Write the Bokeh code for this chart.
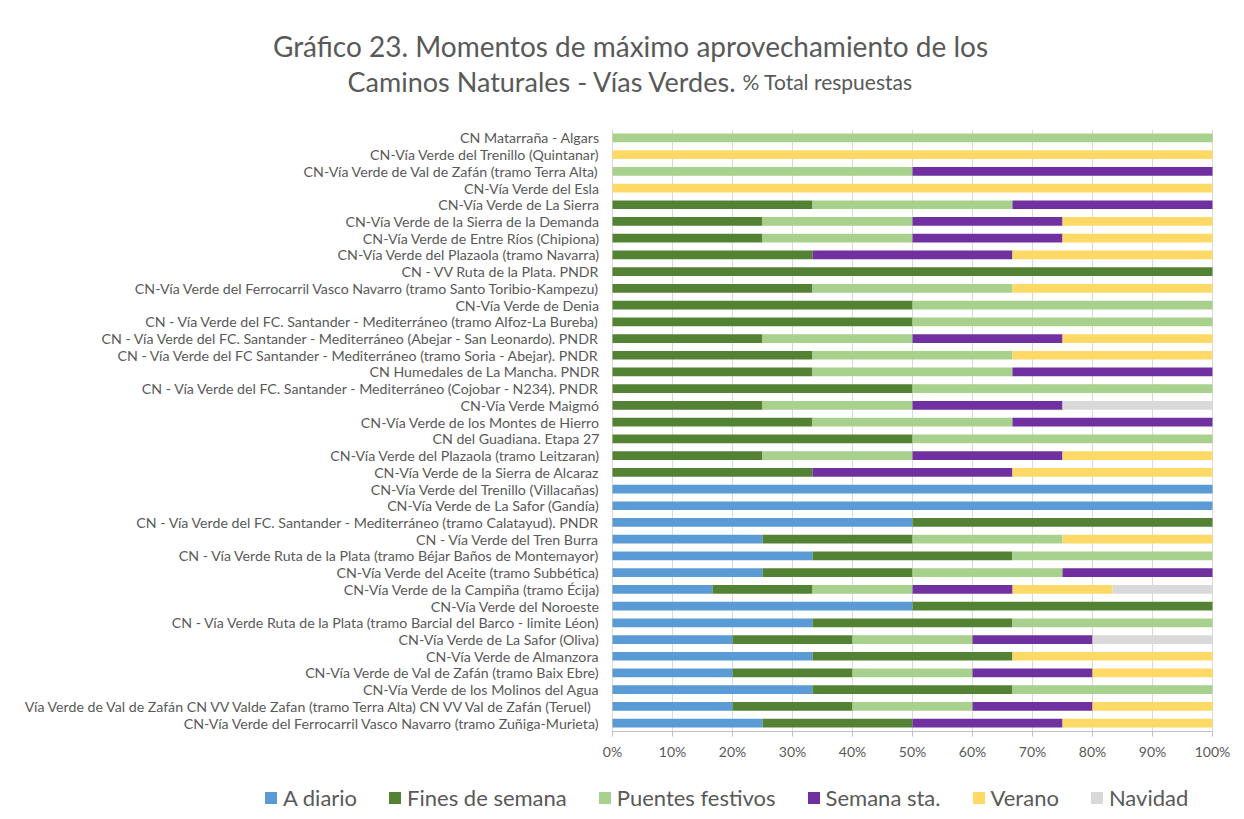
from bokeh.plotting import figure
from bokeh.layouts import column
from bokeh.models import (ColumnDataSource, FactorRange, Range1d, Label, Legend, LegendItem,
                          PrintfTickFormatter, FixedTicker)
from bokeh.core.properties import value
from bokeh.embed import file_html
from bokeh.resources import INLINE

categories = [
    "CN Matarraña - Algars",
    "CN-Vía Verde del Trenillo (Quintanar)",
    "CN-Vía Verde de Val de Zafán (tramo Terra Alta)",
    "CN-Vía Verde del Esla",
    "CN-Vía Verde de La Sierra",
    "CN-Vía Verde de la Sierra de la Demanda",
    "CN-Vía Verde de Entre Ríos (Chipiona)",
    "CN-Vía Verde del Plazaola (tramo Navarra)",
    "CN - VV Ruta de la Plata. PNDR",
    "CN-Vía Verde del Ferrocarril Vasco Navarro (tramo Santo Toribio-Kampezu)",
    "CN-Vía Verde de Denia",
    "CN - Vía Verde del FC. Santander - Mediterráneo (tramo Alfoz-La Bureba)",
    "CN - Vía Verde del FC. Santander - Mediterráneo (Abejar - San Leonardo). PNDR",
    "CN - Vía Verde del FC Santander - Mediterráneo (tramo Soria - Abejar). PNDR",
    "CN Humedales de La Mancha. PNDR",
    "CN - Vía Verde del FC. Santander - Mediterráneo (Cojobar - N234). PNDR",
    "CN-Vía Verde Maigmó",
    "CN-Vía Verde de los Montes de Hierro",
    "CN del Guadiana. Etapa 27",
    "CN-Vía Verde del Plazaola (tramo Leitzaran)",
    "CN-Vía Verde de la Sierra de Alcaraz",
    "CN-Vía Verde del Trenillo (Villacañas)",
    "CN-Vía Verde de La Safor (Gandía)",
    "CN - Vía Verde del FC. Santander - Mediterráneo (tramo Calatayud). PNDR",
    "CN - Vía Verde del Tren Burra",
    "CN - Vía Verde Ruta de la Plata (tramo Béjar Baños de Montemayor)",
    "CN-Vía Verde del Aceite (tramo Subbética)",
    "CN-Vía Verde de la Campiña (tramo Écija)",
    "CN-Vía Verde del Noroeste",
    "CN - Vía Verde Ruta de la Plata (tramo Barcial del Barco - limite Léon)",
    "CN-Vía Verde de La Safor (Oliva)",
    "CN-Vía Verde de Almanzora",
    "CN-Vía Verde de Val de Zafán (tramo Baix Ebre)",
    "CN-Vía Verde de los Molinos del Agua",
    "Vía Verde de Val de Zafán  CN VV Valde Zafan (tramo Terra Alta) CN VV Val de Zafán (Teruel)",
    "CN-Vía Verde del Ferrocarril Vasco Navarro (tramo Zuñiga-Murieta)",
]

a_diario = [0, 0, 0, 0, 0, 0, 0, 0, 0, 0, 0, 0, 0, 0, 0, 0, 0, 0, 0, 0, 0,
            100, 100, 50, 25, 33.33, 25, 16.67, 50, 33.33, 20, 33.33, 20, 33.33, 20, 25]
fines_semana = [0, 0, 0, 0, 33.33, 25, 25, 33.33, 100, 33.33, 50, 50, 25, 33.33, 33.33, 50, 25, 33.33, 50, 25, 33.33,
                0, 0, 50, 25, 33.33, 25, 16.67, 50, 33.33, 20, 33.33, 20, 33.33, 20, 25]
puentes_festivos = [100, 0, 50, 0, 33.33, 25, 25, 0, 0, 33.33, 50, 50, 25, 33.33, 33.33, 50, 25, 33.33, 50, 25, 0,
                    0, 0, 0, 25, 33.33, 25, 16.67, 0, 33.33, 20, 0, 20, 33.33, 20, 0]
semana_santa = [0, 0, 50, 0, 33.33, 25, 25, 33.33, 0, 0, 0, 0, 25, 0, 33.33, 0, 25, 33.33, 0, 25, 33.33,
                0, 0, 0, 0, 0, 25, 16.67, 0, 0, 20, 0, 20, 0, 20, 25]
verano = [0, 100, 0, 100, 0, 25, 25, 33.33, 0, 33.33, 0, 0, 25, 33.33, 0, 0, 0, 0, 0, 25, 33.33,
          0, 0, 0, 25, 0, 0, 16.67, 0, 0, 0, 33.33, 20, 0, 20, 25]
navidad = [0, 0, 0, 0, 0, 0, 0, 0, 0, 0, 0, 0, 0, 0, 0, 0, 25, 0, 0, 0, 0,
           0, 0, 0, 0, 0, 0, 16.67, 0, 0, 20, 0, 0, 0, 0, 0]

series_names = ["A diario", "Fines de semana", "Puentes festivos", "Semana sta.", "Verano", "Navidad"]
colors = ["#5B9BD5", "#548235", "#A9D18E", "#7030A0", "#FFD966", "#D9D9D9"]
x_ticks = [0, 10, 20, 30, 40, 50, 60, 70, 80, 90, 100]

title_line1 = "Gráfico 23. Momentos de máximo aprovechamiento de los"
title_line2 = "Caminos Naturales - Vías Verdes."
title_suffix = "% Total respuestas"

keys = ["a", "f", "p", "s", "v", "n"]
source = ColumnDataSource(dict(cat=categories, a=a_diario, f=fines_semana, p=puentes_festivos,
                               s=semana_santa, v=verano, n=navidad))

FONT = "Lato"
GRAY = "#595959"
W = 1244
PX_PER_PCT = 6.0          # 100 % spans 600 px
X0_PX = 612               # pixel position of 0 %


def bare(fig):
    fig.xaxis.visible = False
    fig.yaxis.visible = False
    fig.xgrid.visible = False
    fig.ygrid.visible = False
    fig.outline_line_color = None
    fig.background_fill_color = "white"
    fig.border_fill_color = "white"


# ---- title figure (page y 0..108) ----
tf = figure(width=W, height=108, output_backend="svg", toolbar_location=None, title=None,
            x_range=Range1d(0, W), y_range=Range1d(108, 0),
            min_border_left=0, min_border_right=0, min_border_top=0, min_border_bottom=0)
bare(tf)
tf.add_layout(Label(x=630, y=45, text=title_line1, text_align="center", text_baseline="alphabetic",
                    text_font=FONT, text_font_size="28px", text_color=GRAY))
tf.add_layout(Label(x=737, y=81, text=title_line2, text_align="right", text_baseline="alphabetic",
                    text_font=FONT, text_font_size="27px", text_color=GRAY))
tf.add_layout(Label(x=742, y=81, text=title_suffix, text_align="left", text_baseline="alphabetic",
                    text_font=FONT, text_font_size="21px", text_color=GRAY))

# ---- main chart (page y 108..775); frame spans the full width ----
p = figure(width=W, height=667, output_backend="svg", toolbar_location=None, title=None,
           y_range=FactorRange(*list(reversed(categories)), range_padding=0),
           x_range=Range1d(-X0_PX / PX_PER_PCT, (W - X0_PX) / PX_PER_PCT),
           min_border_left=0, min_border_right=0, min_border_top=21, min_border_bottom=44)

renderers = p.hbar_stack(keys, y="cat", height=0.52, color=colors, source=source, line_color=None)

# category labels, right-aligned just left of 0 %
p.text(x=0, y="cat", text="cat", source=source, x_offset=-13,
       text_align="right", text_baseline="middle",
       text_font=value(FONT), text_font_size="14.2px", text_color=GRAY)

p.outline_line_color = None
p.background_fill_color = "white"
p.border_fill_color = "white"
p.xgrid.ticker = FixedTicker(ticks=x_ticks)
p.xgrid.grid_line_color = "#D9D9D9"
p.ygrid.grid_line_color = None
p.yaxis.visible = False

xa = p.xaxis[0]
xa.ticker = FixedTicker(ticks=x_ticks)
xa.bounds = (0, 100)
xa.formatter = PrintfTickFormatter(format="%d%%")
xa.axis_line_color = "#BFBFBF"
xa.major_tick_line_color = "#BFBFBF"
xa.major_tick_out = 5
xa.major_tick_in = 0
xa.minor_tick_line_color = None
xa.major_label_standoff = 6
xa.major_label_text_font = FONT
xa.major_label_text_font_size = "14px"
xa.major_label_text_color = GRAY

# ---- legend figure (page y 775..819) ----
lf = figure(width=W, height=44, output_backend="svg", toolbar_location=None, title=None,
            x_range=Range1d(0, W), y_range=FactorRange(*categories),
            min_border_left=0, min_border_right=0, min_border_top=0, min_border_bottom=0)
bare(lf)
legend_renderers = lf.hbar_stack(keys, y="cat", height=0.52, color=colors, source=source,
                                 line_color=None, visible=False)
legend = Legend(items=[LegendItem(label=n, renderers=[r]) for n, r in zip(series_names, legend_renderers)],
                orientation="horizontal", location=(263, 8),
                label_text_font=FONT, label_text_font_size="22px", label_text_color=GRAY,
                label_text_baseline="middle", label_height=24,
                glyph_width=15, glyph_height=15, label_standoff=5, spacing=30,
                border_line_color=None, background_fill_alpha=0, padding=0, margin=0)
lf.add_layout(legend, "center")

layout = column(tf, p, lf, spacing=0)
open("out.html", "w").write(file_html(layout, INLINE))
